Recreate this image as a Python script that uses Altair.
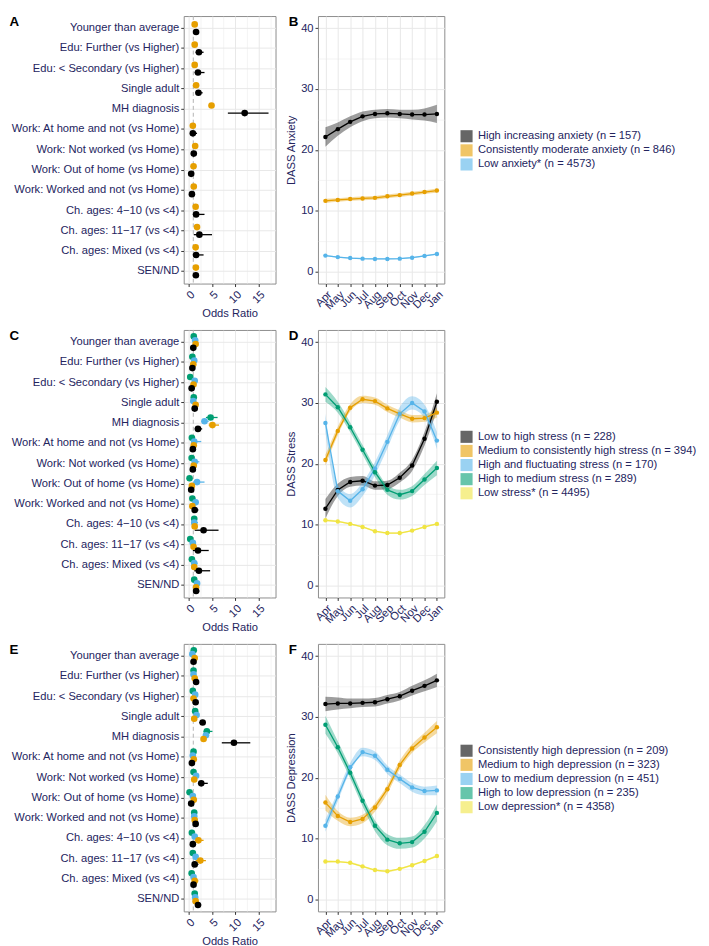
import altair as alt
import pandas as pd

FONT = "Liberation Sans"
NAVY = "#24245e"
BLACK = "#000000"
ORANGE = "#E69F00"
BLUE = "#56B4E9"
GREEN = "#009E73"
YELLOW = "#F0E442"

CATEGORIES = [
    "Younger than average",
    "Edu: Further (vs Higher)",
    "Edu: < Secondary (vs Higher)",
    "Single adult",
    "MH diagnosis",
    "Work: At home and not (vs Home)",
    "Work: Not worked (vs Home)",
    "Work: Out of home (vs Home)",
    "Work: Worked and not (vs Home)",
    "Ch. ages: 4\u221210 (vs <4)",
    "Ch. ages: 11\u221217 (vs <4)",
    "Ch. ages: Mixed (vs <4)",
    "SEN/ND",
]
MONTHS = ["Apr", "May", "Jun", "Jul", "Aug", "Sep", "Oct", "Nov", "Dec", "Jan"]

# ---------- Panel A (anxiety odds ratios) ----------
A_ORANGE_OR = [1.3, 1.3, 1.3, 1.6, 4.9, 0.9, 1.4, 1.05, 1.1, 1.5, 1.8, 1.5, 1.55]
A_ORANGE_LO = [1.1, 1.1, 1.05, 1.35, 4.4, 0.7, 1.15, 0.85, 0.9, 1.2, 1.4, 1.2, 1.3]
A_ORANGE_HI = [1.55, 1.55, 1.6, 1.9, 5.4, 1.15, 1.7, 1.3, 1.35, 1.85, 2.3, 1.85, 1.8]
A_BLACK_OR = [1.6, 2.2, 2.0, 2.1, 12.0, 0.9, 1.1, 0.55, 0.7, 1.6, 2.3, 1.6, 1.55]
A_BLACK_LO = [1.1, 1.5, 1.3, 1.5, 8.4, 0.5, 0.7, 0.3, 0.4, 0.9, 1.1, 0.9, 1.1]
A_BLACK_HI = [2.2, 3.2, 3.4, 3.0, 17.1, 1.8, 1.8, 1.1, 1.3, 3.4, 5.0, 3.2, 2.2]

# ---------- Panel C (stress odds ratios) ----------
C_GREEN_OR = [1.1, 0.8, 0.35, 1.1, 4.7, 0.7, 0.65, 0.2, 0.8, 1.2, 0.35, 0.7, 1.2]
C_GREEN_LO = [0.8, 0.55, 0.2, 0.8, 3.7, 0.45, 0.4, 0.1, 0.55, 0.85, 0.2, 0.45, 0.9]
C_GREEN_HI = [1.5, 1.15, 0.6, 1.5, 6.2, 1.1, 1.0, 0.45, 1.2, 1.7, 0.7, 1.1, 1.6]
C_BLUE_OR = [1.4, 1.2, 1.3, 1.0, 3.4, 1.2, 1.3, 1.8, 1.5, 1.2, 0.9, 1.2, 1.8]
C_BLUE_LO = [1.0, 0.8, 0.8, 0.7, 2.7, 0.7, 0.8, 0.9, 0.9, 0.7, 0.5, 0.7, 1.3]
C_BLUE_HI = [1.9, 1.8, 2.0, 1.5, 4.3, 2.7, 2.3, 3.4, 2.2, 2.0, 1.6, 1.9, 2.3]
C_ORANGE_OR = [1.5, 1.0, 1.05, 1.5, 5.1, 1.1, 1.1, 0.7, 0.8, 1.3, 1.05, 1.2, 1.6]
C_ORANGE_LO = [1.2, 0.75, 0.8, 1.15, 4.3, 0.85, 0.85, 0.5, 0.6, 1.0, 0.75, 0.9, 1.3]
C_ORANGE_HI = [1.85, 1.3, 1.4, 1.95, 6.5, 1.45, 1.45, 1.0, 1.1, 1.7, 1.45, 1.6, 2.0]
C_BLACK_OR = [1.0, 0.8, 0.65, 1.3, 2.0, 0.9, 0.9, 0.55, 1.3, 3.2, 2.0, 2.2, 1.6]
C_BLACK_LO = [0.6, 0.5, 0.4, 0.8, 1.3, 0.55, 0.55, 0.3, 0.8, 1.3, 0.9, 1.2, 1.1]
C_BLACK_HI = [1.6, 1.3, 1.1, 2.0, 2.9, 1.5, 1.5, 1.0, 2.1, 6.4, 4.3, 4.6, 2.3]

# ---------- Panel E (depression odds ratios) ----------
E_GREEN_OR = [1.1, 1.05, 0.9, 1.4, 3.9, 1.05, 1.05, 0.2, 1.2, 0.7, 0.9, 0.65, 1.3]
E_GREEN_LO = [0.85, 0.8, 0.65, 1.1, 3.2, 0.8, 0.8, 0.1, 0.9, 0.5, 0.65, 0.45, 1.0]
E_GREEN_HI = [1.4, 1.35, 1.2, 1.8, 5.1, 1.35, 1.35, 0.4, 1.6, 1.0, 1.25, 0.95, 1.7]
E_BLUE_OR = [0.8, 1.05, 1.4, 1.7, 3.7, 0.9, 1.6, 0.9, 1.2, 1.3, 1.5, 1.05, 1.4]
E_BLUE_LO = [0.6, 0.8, 1.1, 1.35, 3.1, 0.7, 1.3, 0.65, 0.95, 1.0, 1.15, 0.8, 1.1]
E_BLUE_HI = [1.05, 1.35, 1.75, 2.1, 4.4, 1.15, 2.0, 1.2, 1.5, 1.7, 1.95, 1.4, 1.75]
E_ORANGE_OR = [1.3, 1.3, 1.05, 1.2, 3.2, 1.1, 1.2, 1.1, 1.3, 2.1, 2.5, 1.3, 1.5]
E_ORANGE_LO = [1.0, 1.0, 0.8, 0.9, 2.7, 0.85, 0.9, 0.8, 1.0, 1.3, 1.5, 0.95, 1.15]
E_ORANGE_HI = [1.65, 1.65, 1.4, 1.6, 3.8, 1.45, 1.6, 1.5, 1.7, 3.2, 3.7, 2.1, 1.95]
E_BLACK_OR = [1.05, 1.6, 1.5, 3.0, 9.7, 0.7, 2.7, 0.55, 1.5, 0.9, 1.3, 1.05, 2.0]
E_BLACK_LO = [0.7, 1.15, 1.05, 2.3, 7.1, 0.45, 2.0, 0.35, 1.05, 0.55, 0.8, 0.65, 1.45]
E_BLACK_HI = [1.5, 2.2, 2.0, 3.6, 13.2, 1.1, 4.1, 0.9, 2.1, 1.5, 2.1, 1.6, 2.7]

# ---------- Panel B (DASS anxiety trajectories) ----------
B_NAMES = ["High increasing anxiety (n = 157)",
           "Consistently moderate anxiety (n = 846)",
           "Low anxiety* (n = 4573)"]
B_HIGH = [22.1, 23.4, 24.6, 25.5, 25.9, 26.0, 25.9, 25.8, 25.8, 25.9]
B_HIGH_CI = [1.6, 1.1, 0.9, 0.8, 0.7, 0.7, 0.7, 0.8, 1.0, 1.5]
B_MOD = [11.6, 11.75, 11.9, 12.0, 12.1, 12.35, 12.55, 12.8, 13.05, 13.3]
B_MOD_CI = [0.35, 0.3, 0.3, 0.3, 0.3, 0.3, 0.3, 0.3, 0.3, 0.35]
B_LOW = [2.6, 2.35, 2.2, 2.1, 2.05, 2.05, 2.1, 2.25, 2.55, 2.85]
B_LOW_CI = [0.12, 0.1, 0.1, 0.1, 0.1, 0.1, 0.1, 0.1, 0.1, 0.12]

# ---------- Panel D (DASS stress trajectories) ----------
D_NAMES = ["Low to high stress (n = 228)",
           "Medium  to consistently high stress (n = 394)",
           "High and fluctuating stress (n = 170)",
           "High  to medium stress (n = 289)",
           "Low stress* (n = 4495)"]
D_LOWHIGH = [12.6, 15.7, 17.0, 17.2, 16.4, 16.5, 17.7, 19.7, 24.1, 30.2]
D_LOWHIGH_CI = [1.6, 1.0, 0.8, 0.8, 0.7, 0.7, 0.8, 0.9, 1.1, 1.4]
D_MED = [20.6, 25.4, 29.2, 30.6, 30.3, 29.1, 28.2, 27.4, 27.5, 28.4]
D_MED_CI = [0.9, 0.7, 0.6, 0.6, 0.6, 0.6, 0.6, 0.6, 0.6, 0.8]
D_FLUCT = [26.7, 15.5, 13.9, 15.8, 19.2, 23.6, 28.2, 30.0, 28.6, 23.8]
D_FLUCT_CI = [1.5, 1.1, 1.1, 1.1, 1.1, 1.1, 1.1, 1.1, 1.1, 1.4]
D_HIGHMED = [31.4, 29.3, 26.0, 22.3, 18.6, 15.7, 14.9, 15.5, 17.4, 19.3]
D_HIGHMED_CI = [1.2, 0.9, 0.8, 0.8, 0.8, 0.8, 0.8, 0.8, 0.9, 1.2]
D_LOW = [10.7, 10.5, 10.1, 9.6, 8.9, 8.6, 8.6, 9.0, 9.6, 10.1]
D_LOW_CI = [0.15, 0.12, 0.12, 0.12, 0.12, 0.12, 0.12, 0.12, 0.12, 0.15]

# ---------- Panel F (DASS depression trajectories) ----------
F_NAMES = ["Consistently high depression (n = 209)",
           "Medium to high depression (n = 323)",
           "Low to medium depression (n = 451)",
           "High to low depression (n = 235)",
           "Low depression* (n = 4358)"]
F_HIGH = [32.1, 32.2, 32.2, 32.3, 32.4, 32.9, 33.4, 34.3, 35.1, 36.0]
F_HIGH_CI = [1.2, 1.0, 0.8, 0.7, 0.7, 0.7, 0.7, 0.8, 0.9, 1.1]
F_MEDHIGH = [15.9, 13.7, 12.7, 13.2, 15.1, 18.1, 22.1, 24.8, 26.6, 28.3]
F_MEDHIGH_CI = [1.3, 0.8, 0.7, 0.7, 0.7, 0.7, 0.7, 0.7, 0.8, 1.0]
F_LOWMED = [12.1, 16.9, 21.7, 24.2, 23.6, 21.3, 19.8, 18.4, 17.8, 17.9]
F_LOWMED_CI = [1.0, 0.8, 0.7, 0.7, 0.7, 0.7, 0.7, 0.7, 0.7, 0.8]
F_HIGHLOW = [28.7, 25.0, 20.8, 16.2, 12.1, 9.8, 9.2, 9.4, 11.1, 14.2]
F_HIGHLOW_CI = [1.5, 1.0, 0.9, 0.9, 0.9, 0.9, 0.9, 0.9, 1.1, 1.4]
F_LOW = [6.2, 6.2, 6.0, 5.4, 4.8, 4.6, 5.0, 5.6, 6.3, 7.1]
F_LOW_CI = [0.2, 0.15, 0.15, 0.15, 0.15, 0.15, 0.15, 0.15, 0.15, 0.2]

H = 271
FW = 93
LW = 128
GRID = "#e8e8e8"
FS = 11.3
LETTER = dict(titleAngle=0, titleAlign="left", titleBaseline="top", titleFontSize=13.5,
              titleFontWeight="bold", titleColor="black")


def forest(series, letter):
    rows = []
    for name, o, l, h in series:
        for c, a, b, d in zip(CATEGORIES, o, l, h):
            rows.append(dict(cat=c, grp=name, orv=a, lo=b, hi=d))
    df = pd.DataFrame(rows)
    names = [s[0] for s in series]
    n = len(names)
    cmap = {"orange": ORANGE, "black": BLACK, "green": GREEN, "blue": BLUE}
    colors = [cmap[k] for k in names]
    xaxis = alt.Axis(values=[0, 2.5, 5, 7.5, 10, 12.5, 15, 17.5],
                     labelExpr="datum.value % 5 == 0 ? '' + datum.value : ''",
                     labelAngle=-45, title="Odds Ratio", grid=True,
                     titleFontWeight="normal", titlePadding=3,
                     tickOpacity={"condition": {"test": "datum.value % 5 != 0", "value": 0}, "value": 1},
                     gridWidth={"condition": {"test": "datum.value % 5 != 0", "value": 0.5}, "value": 1})
    xscale = alt.Scale(domain=[-1.05, 18.6], nice=False, zero=False)
    y = alt.Y("cat:N", sort=CATEGORIES, title=letter,
              scale=alt.Scale(paddingInner=0, paddingOuter=0.1),
              axis=alt.Axis(grid=True, labelLimit=300, labelPadding=2,
                            titleX=-177, titleY=-1, **LETTER))
    yo = alt.YOffset("grp:N", sort=names,
                     scale=alt.Scale(domain=names, paddingInner=0, paddingOuter=n / 6))
    col = alt.Color("grp:N", scale=alt.Scale(domain=names, range=colors), legend=None)
    base = alt.Chart(df)
    vline = alt.Chart(pd.DataFrame({"v": [1]})).mark_rule(
        strokeDash=[4, 3], color="#b3b3b3", strokeWidth=1).encode(
        x=alt.X("v:Q", scale=xscale, axis=xaxis))
    rules = base.mark_rule(strokeWidth=1.3).encode(
        x=alt.X("lo:Q", scale=xscale, axis=xaxis), x2="hi:Q", y=y, yOffset=yo, color=col)
    pts = base.mark_circle(size=45, opacity=1).encode(
        x=alt.X("orv:Q", scale=xscale, axis=xaxis), y=y, yOffset=yo, color=col)
    return alt.layer(vline, rules, pts).properties(width=FW, height=H)


def lines(names, vals, cis, colors, ytitle, letter):
    rows = []
    for name, v, c in zip(names, vals, cis):
        for m, a, b in zip(MONTHS, v, c):
            rows.append(dict(month=m, grp=name, val=a, lo=a - b, hi=a + b))
    df = pd.DataFrame(rows)
    yaxis = alt.Axis(values=[0, 5, 10, 15, 20, 25, 30, 35, 40],
                     labelExpr="datum.value % 10 == 0 ? '' + datum.value : ''",
                     title=ytitle, grid=True, titlePadding=4, titleFontWeight="normal",
                     tickOpacity={"condition": {"test": "datum.value % 10 != 0", "value": 0}, "value": 1},
                     gridWidth={"condition": {"test": "datum.value % 10 != 0", "value": 0.5}, "value": 1})
    yscale = alt.Scale(domain=[-2, 42], nice=False, zero=False)
    x = alt.X("month:O", sort=MONTHS, title=letter, scale=alt.Scale(padding=0.6),
              axis=alt.Axis(labelAngle=-45, grid=True, titleX=-30, titleY=-H - 1, **LETTER))
    cscale = alt.Scale(domain=names, range=colors)
    n = len(names)
    legend = alt.Legend(title=None, orient="none", legendX=LW + 16,
                        legendY=H / 2 - n * 13.5 / 2, symbolType="square", symbolSize=150,
                        symbolOpacity=0.6, symbolStrokeWidth=0, labelFontSize=FS,
                        labelColor=NAVY, labelFont=FONT, labelLimit=400, rowPadding=1.3,
                        labelOffset=5, padding=0)
    base = alt.Chart(df)
    area = base.mark_area(opacity=0.38, interpolate="monotone").encode(
        x=x, y=alt.Y("lo:Q", scale=yscale, axis=yaxis), y2="hi:Q",
        color=alt.Color("grp:N", sort=names, scale=cscale, legend=legend))
    line = base.mark_line(strokeWidth=1.3).encode(
        x=x, y=alt.Y("val:Q", scale=yscale, axis=yaxis),
        color=alt.Color("grp:N", sort=names, scale=cscale, legend=None))
    pts = base.mark_circle(size=20, opacity=1).encode(
        x=x, y=alt.Y("val:Q", scale=yscale, axis=yaxis),
        color=alt.Color("grp:N", sort=names, scale=cscale, legend=None))
    return alt.layer(area, line, pts).properties(width=LW, height=H)


fa = forest([("orange", A_ORANGE_OR, A_ORANGE_LO, A_ORANGE_HI),
             ("black", A_BLACK_OR, A_BLACK_LO, A_BLACK_HI)], "A")
fc = forest([("green", C_GREEN_OR, C_GREEN_LO, C_GREEN_HI),
             ("blue", C_BLUE_OR, C_BLUE_LO, C_BLUE_HI),
             ("orange", C_ORANGE_OR, C_ORANGE_LO, C_ORANGE_HI),
             ("black", C_BLACK_OR, C_BLACK_LO, C_BLACK_HI)], "C")
fe = forest([("green", E_GREEN_OR, E_GREEN_LO, E_GREEN_HI),
             ("blue", E_BLUE_OR, E_BLUE_LO, E_BLUE_HI),
             ("orange", E_ORANGE_OR, E_ORANGE_LO, E_ORANGE_HI),
             ("black", E_BLACK_OR, E_BLACK_LO, E_BLACK_HI)], "E")

lb = lines(B_NAMES, [B_HIGH, B_MOD, B_LOW], [B_HIGH_CI, B_MOD_CI, B_LOW_CI],
           [BLACK, ORANGE, BLUE], "DASS Anxiety", "B")
ld = lines(D_NAMES, [D_LOWHIGH, D_MED, D_FLUCT, D_HIGHMED, D_LOW],
           [D_LOWHIGH_CI, D_MED_CI, D_FLUCT_CI, D_HIGHMED_CI, D_LOW_CI],
           [BLACK, ORANGE, BLUE, GREEN, YELLOW], "DASS Stress", "D")
lf = lines(F_NAMES, [F_HIGH, F_MEDHIGH, F_LOWMED, F_HIGHLOW, F_LOW],
           [F_HIGH_CI, F_MEDHIGH_CI, F_LOWMED_CI, F_HIGHLOW_CI, F_LOW_CI],
           [BLACK, ORANGE, BLUE, GREEN, YELLOW], "DASS Depression", "F")

RES = dict(color="independent", x="independent", y="independent", yOffset="independent")


def row(a, b):
    return alt.hconcat(a, b, spacing=8).resolve_scale(**RES)


chart = alt.vconcat(row(fa, lb), row(fc, ld), row(fe, lf), spacing=8).resolve_scale(
    **RES
).properties(padding=0, background="white").configure_view(
    stroke="#8c8c8c", strokeWidth=1
).configure_axis(
    labelFont=FONT, titleFont=FONT, labelColor=NAVY, titleColor=NAVY,
    titleFontWeight="normal", titleFontSize=FS, labelFontSize=FS,
    tickColor="#333333", tickSize=3, domain=False, gridColor=GRID
)

chart.save("out.html", embed_options={"renderer": "svg", "actions": False})
